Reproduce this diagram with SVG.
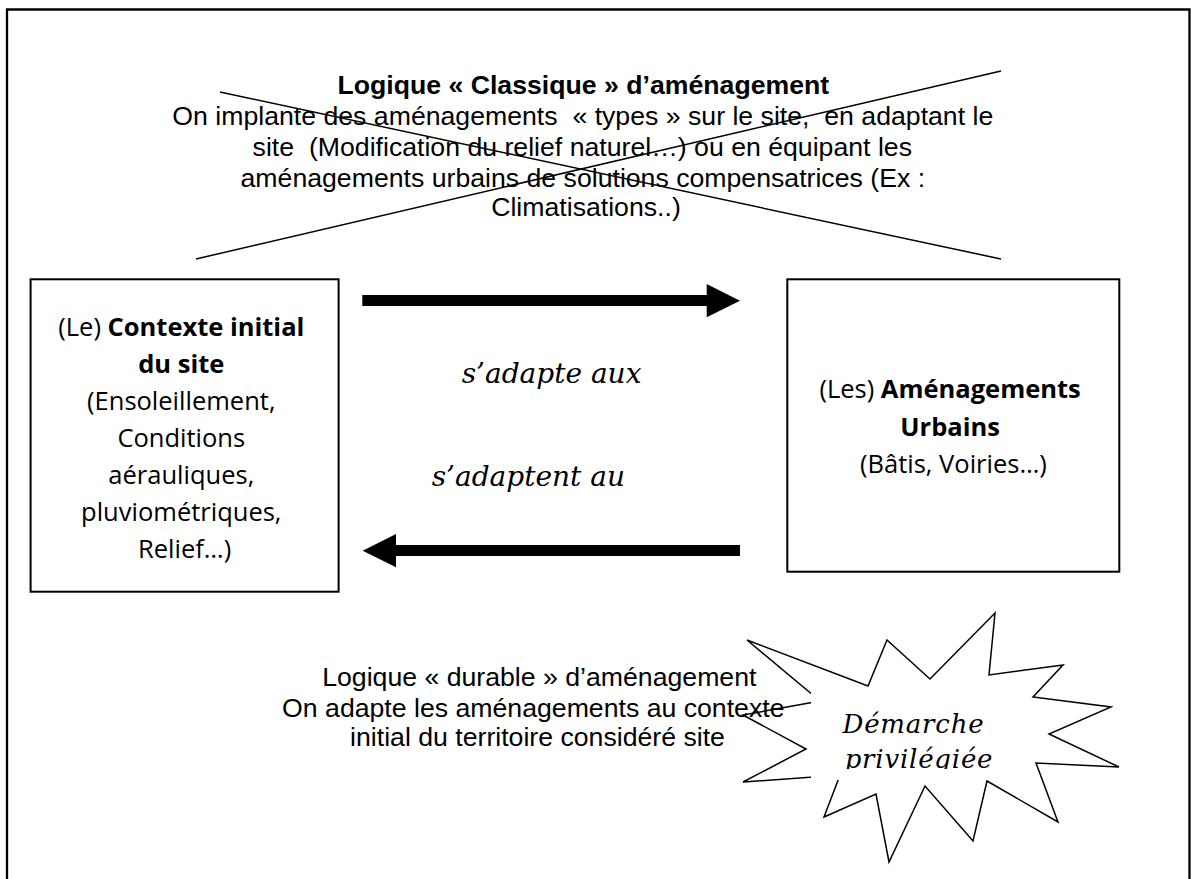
<svg xmlns="http://www.w3.org/2000/svg" width="1191" height="879" viewBox="0 0 1191 879">
<style>
.arial{font-family:"Liberation Sans",Arial,sans-serif;font-size:26.67px;fill:#000}
.comic{font-family:"Open Sans","DejaVu Sans",sans-serif;font-size:25.5px;fill:#000}
.ital{font-family:"DejaVu Serif","Liberation Serif",serif;font-style:italic;fill:#000}
.b{font-weight:bold}
.box{fill:#fff;stroke:#000;stroke-width:2}
.thin{fill:none;stroke:#000;stroke-width:1.5}
</style>
<defs>
<clipPath id="starText"><rect x="811" y="690" width="219" height="79"/></clipPath>
</defs>
<rect width="1191" height="879" fill="#fff"/>
<g id="frame"><path d="M7 879 V9.5 H1189.5 V879" fill="none" stroke="#000" stroke-width="2.3"/></g>

<g id="classique">
<line class="thin" x1="220" y1="92" x2="1001" y2="259"/>
<line class="thin" x1="196" y1="259" x2="1001" y2="71"/>
<text class="arial" text-anchor="middle">
<tspan class="b" x="587" y="94">Logique « Classique » d’aménagement</tspan>
<tspan x="586.5" y="125">On implante des aménagements &#160;« types » sur le site, &#160;en adaptant le</tspan>
<tspan x="586" y="156">site &#160;(Modification du relief naturel…) ou en équipant les</tspan>
<tspan x="586.5" y="186.7">aménagements urbains de solutions compensatrices (Ex :</tspan>
<tspan x="586" y="216">Climatisations..)</tspan>
</text>
</g>

<g id="contexte">
<rect class="box" x="30.6" y="279.3" width="308" height="312.4"/>
<text class="comic" text-anchor="middle">
<tspan x="184.6" y="336">(Le) <tspan class="b">Contexte initial</tspan></tspan>
<tspan class="b" x="184.6" y="373">du site</tspan>
<tspan x="184.6" y="410">(Ensoleillement,</tspan>
<tspan x="184.6" y="447">Conditions</tspan>
<tspan x="184.6" y="484">aérauliques,</tspan>
<tspan x="184.6" y="521">pluviométriques,</tspan>
<tspan x="184.6" y="558">Relief…)</tspan>
</text>
</g>

<g id="amenagements">
<rect class="box" x="787.3" y="279.3" width="332" height="292.4"/>
<text class="comic" text-anchor="middle">
<tspan x="953.4" y="398">(Les) <tspan class="b">Aménagements</tspan></tspan>
<tspan class="b" x="953.4" y="436">Urbains</tspan>
<tspan x="953.4" y="473">(Bâtis, Voiries…)</tspan>
</text>
</g>

<g id="connectors">
<polygon points="362.3,295 706.7,295 706.7,284 740,300.7 706.7,317.3 706.7,306 362.3,306" fill="#000"/>
<polygon points="740,545 396,545 396,534 362.7,550.7 396,567.3 396,556 740,556" fill="#000"/>
<text class="ital" font-size="28" x="461.7" y="383.3">s’adapte aux</text>
<text class="ital" font-size="28" x="431.7" y="486">s’adaptent au</text>
</g>

<g id="durable">
<text class="arial" text-anchor="middle">
<tspan x="543" y="685.7">Logique « durable » d’aménagement</tspan>
<tspan x="537" y="716.7">On adapte les aménagements au contexte</tspan>
<tspan x="537.5" y="745.7">initial du territoire considéré site</tspan>
</text>
</g>

<g id="demarche">
<polygon class="thin" stroke-linejoin="miter" points="747,640 868,686 887,640 930,679 995,613 989,675 1063,665 1033,697 1111,707 1049,734 1119,767 1036,763 1058,822 987,781 973,841 925,786 889,862 876,794 824,817 840,775 743,782 806,749 743,715 820,701"/>
<rect x="811" y="690" width="219" height="90" fill="#fff"/>
<g clip-path="url(#starText)">
<text class="ital" font-size="26" letter-spacing="0.8" text-anchor="middle">
<tspan x="918" y="733.3">Démarche</tspan>
<tspan x="919" y="768">privilégiée</tspan>
</text>
</g>
</g>
</svg>
